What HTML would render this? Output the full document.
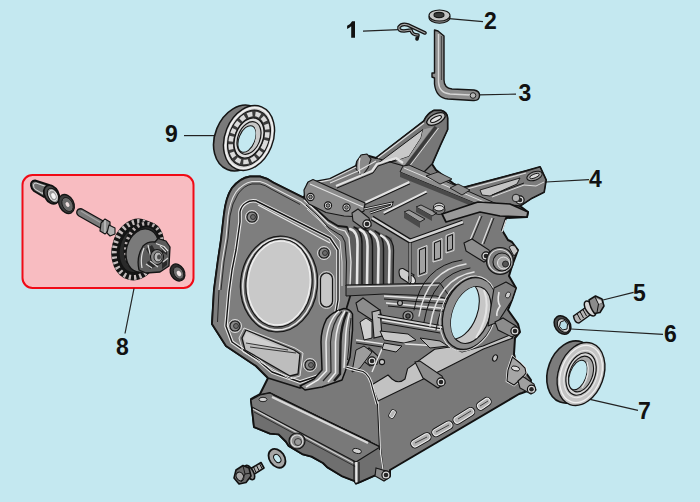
<!DOCTYPE html>
<html><head><meta charset="utf-8">
<style>
html,body{margin:0;padding:0;background:#c4e8f0;}
body{width:700px;height:502px;overflow:hidden;font-family:"Liberation Sans",sans-serif;}
svg{display:block;}
text{font-family:"Liberation Sans",sans-serif;font-weight:bold;font-size:23px;fill:#111;}
</style></head><body>
<svg width="700" height="502" viewBox="0 0 700 502">
<rect width="700" height="502" fill="#c4e8f0"/>
<!-- PINKBOX -->
<rect x="22.5" y="175" width="171" height="113" rx="10" ry="10" fill="#f8bcc1" stroke="#f00a16" stroke-width="2"/>
<!-- LEADERS -->
<g stroke="#222" stroke-width="1.2" fill="none">
<line x1="363" y1="31.1" x2="399" y2="29.6"/>
<line x1="449" y1="18.6" x2="483" y2="21.7"/>
<line x1="479" y1="94.9" x2="516" y2="94.1"/>
<line x1="546" y1="182" x2="589" y2="179.6"/>
<line x1="603" y1="300" x2="633.6" y2="292.4"/>
<line x1="571" y1="329" x2="663" y2="334.4"/>
<line x1="590" y1="399.4" x2="638" y2="410.4"/>
<line x1="134" y1="288.5" x2="125" y2="333.5"/>
<line x1="184" y1="135.6" x2="215" y2="135.6"/>
</g>
<!-- LABELS -->
<path d="M355,21.200 L355,37.700 L351.200,37.700 L351.200,26.200 Q349.500,27.900 347.100,28.900 L347.100,25.700 Q350.600,24.200 352.100,21.200 Z" fill="#111"/>
<text x="484" y="28.6">2</text>
<text x="518.5" y="101.4">3</text>
<text x="589" y="187">4</text>
<text x="633" y="300.6">5</text>
<text x="664" y="342">6</text>
<text x="638" y="418.7">7</text>
<text x="116" y="355">8</text>
<text x="165" y="141.6">9</text>
<!-- BODY -->
<g id="body">
<path id="sil" d="M250,176.500 L260,176.500 Q267,178 274,183 L304,198 L308,183 L330,179 L356,166 L357,162 L363,155 L369,156 L376,158 L424,121 Q427,114 434,110.500 L441,110.500 Q447,112 447.500,118 L447.500,129.400 L440.300,145 L432,164 L436,170 L454,184 L462,188 L526,171 L540,167 L546,180 L544,192 L532,198 L520,206 L528,212 L527,217 L506,218 L502,230 L508,240 L512,242 L518,250 L512,266 L509,276 L516,288 L512,300 L508,310 L518,324 L520,332 L515,338 L514,354 L516,362 L524,370 L531,380 L530,390 L522,393 L519,394 L390,470 L390,476 L384,480 L378,474 L360,482 L356,483.5 L354.6,481 L341.7,476 L327.4,467.3 L323,463 L311.6,456.6 L303,454.4 L288.6,445.8 L285.8,441.5 L278.6,434.3 L270,433.6 L254,427 L251,399 L260,394 L268,378 L256,366 L226,346 L212,324 L214,290 L218,260 L221,240 L224,214 Q226,197 232,188 Q240,178 250,176.500 Z" fill="#797979" stroke="#111" stroke-width="2" stroke-linejoin="round"/>

<!-- flange face (slightly lighter rim) -->
<path d="M250,176.500 L260,176.500 Q267,178 274,183 L304,198 L316,209 L328,220 L338,226 L347,227 L351,236 L354,262 L352,290 L346,310 L338,330 L336,372 L322,381 L300,388 L268,378 L256,366 L226,346 L212,324 L214,290 L218,260 L221,240 L224,214 Q226,197 232,188 Q240,178 250,176.500 Z" fill="#7e7e7e" stroke="#151515" stroke-width="1.8" stroke-linejoin="round"/>
<path d="M219,290 L222,262 L226,238 L228,216 Q230,201 236,192 Q243,183 252,181.500 L260,181.500 Q266,183 272,187 L301,202 L314,213 L326,226" fill="none" stroke="#e2e2e2" stroke-width="1.100"/>
<path d="M217.500,322 L219,290 M221,290 L224,262 L228,238 L230,216 Q232,203 238,194 Q244,185.500 252,184 L260,184 Q265,185 271,189 L300,204.500" fill="none" stroke="#202020" stroke-width="0.900"/>
<!-- inner gasket face -->
<path d="M246,203 Q250,200 256,201 L330,238 L338,250 L338,300 L333,330 L330,368 L318,376 L300,382 L272,372 L258,360 L232,342 L226,326 L229,292 L232,270 L236,250 L240,222 L240,212 Q241,206 246,203 Z" fill="#7e7e7e" stroke="#e8e8e8" stroke-width="3.600" stroke-linejoin="round"/>
<path d="M246,203 Q250,200 256,201 L330,238 L338,250 L338,300 L333,330 L330,368 L318,376 L300,382 L272,372 L258,360 L232,342 L226,326 L229,292 L232,270 L236,250 L240,222 L240,212 Q241,206 246,203 Z" fill="none" stroke="#151515" stroke-width="1.400" stroke-linejoin="round"/>
<path d="M258,205 L330,243" fill="none" stroke="#e8e8e8" stroke-width="1.200"/>
<!-- bore -->
<ellipse cx="279" cy="284" rx="38.500" ry="48" fill="#6a6a6a" stroke="#151515" stroke-width="1.2" transform="rotate(6 279 284)"/>
<ellipse cx="279" cy="284" rx="36" ry="46" fill="none" stroke="#e6e6e6" stroke-width="1.6" transform="rotate(6 279 284)"/>
<ellipse cx="279" cy="283" rx="33" ry="44" fill="#cbcbcb" stroke="#151515" stroke-width="1.2" transform="rotate(6 279 283)"/>
<ellipse cx="279" cy="283" rx="31" ry="42" fill="#c9c9c9" stroke="#f2f2f2" stroke-width="1.2" transform="rotate(6 279 283)"/>
<!-- slot right of bore -->
<rect x="320.500" y="273" width="12" height="34" rx="6" fill="#c6c6c6" stroke="#151515" stroke-width="1.2"/>
<rect x="319" y="271.500" width="15" height="37" rx="7.500" fill="none" stroke="#e6e6e6" stroke-width="0.8"/>
<!-- window -->
<path d="M246,330 L242,338 L245,350 L290,376 L298,374 L300,354 L294,350 Z" fill="#bdbdbd" stroke="#151515" stroke-width="1.3" stroke-linejoin="round"/>
<path d="M246,332 L244,339 L246,343 L287,350 Z" fill="#cfcfcf"/>
<path d="M246,343 L288,350 M250,347 L296,353" stroke="#222" stroke-width="0.9" fill="none"/>
<path d="M244,328 L239,338 L243,352 L290,379 L300,376 L303,353 L295,348 Z" fill="none" stroke="#e6e6e6" stroke-width="0.9"/>
<!-- bolt holes -->
<g fill="#8a8a8a" stroke="#151515" stroke-width="1.1">
<circle cx="252" cy="217" r="5"/><circle cx="324" cy="253" r="5"/><circle cx="235" cy="326" r="5"/><circle cx="310" cy="365" r="5"/>
</g>
<g fill="none" stroke="#e6e6e6" stroke-width="0.9">
<circle cx="252" cy="217" r="6.500"/><circle cx="324" cy="253" r="6.500"/><circle cx="235" cy="326" r="6.500"/><circle cx="310" cy="365" r="6.500"/>
</g>
<g fill="#6a6a6a" stroke="#222" stroke-width="0.8">
<circle cx="253" cy="217" r="2.500"/><circle cx="325" cy="253" r="2.500"/><circle cx="236" cy="326" r="2.500"/><circle cx="311" cy="365" r="2.500"/>
</g>

<!-- BASE -->
<path d="M251,400 L260,395 L270,393 L380,447 L383,470 L378,474 L360,482 L356,483.5 L354.6,481 L341.7,476 L327.4,467.3 L323,463 L311.6,456.6 L303,454.4 L288.6,445.8 L285.8,441.5 L278.6,434.3 L270,433.6 L254,427 Z" fill="#6f6f6f" stroke="#111" stroke-width="1.8" stroke-linejoin="round"/>
<!-- base top rim -->
<path d="M251,400 L260,395 L270,393 L380,447 L356,462 L252,407 Z" fill="#797979" stroke="#151515" stroke-width="1.1" stroke-linejoin="round"/>
<path d="M272,397 L368,443" stroke="#d8d8d8" stroke-width="2.2" fill="none"/>
<path d="M273,395 L371,441.500" stroke="#151515" stroke-width="0.9" fill="none"/>
<path d="M253,409 L357,465" stroke="#d2d2d2" stroke-width="1.2" fill="none"/>
<path d="M254,412 L356,467" stroke="#222" stroke-width="0.8" fill="none"/>
<ellipse cx="263" cy="399.500" rx="4" ry="2.200" fill="#d0d0d0" stroke="#151515" stroke-width="0.9"/>
<ellipse cx="357" cy="451" rx="4.500" ry="2.400" fill="#d0d0d0" stroke="#151515" stroke-width="0.9" transform="rotate(10 357 451)"/>
<path d="M356.3,462 L356.3,482.5" stroke="#e6e6e6" stroke-width="2.2"/>
<path d="M354,461 L354,481 M359,462 L359,482" stroke="#151515" stroke-width="1.1"/>
<!-- drain plug -->
<circle cx="297" cy="441" r="8" fill="#6a6a6a" stroke="#151515" stroke-width="1.2"/>
<circle cx="297" cy="441" r="6" fill="#8e8e8e" stroke="#dcdcdc" stroke-width="1.2"/>
<circle cx="298" cy="442" r="3.500" fill="#9a9a9a" stroke="#222" stroke-width="0.8"/>
<!-- base right side face -->
<path d="M378,401 L380.500,453 L383,470" stroke="#dedede" stroke-width="1.3" fill="none"/>
<path d="M377,383 L377.500,405 L379.500,450" stroke="#151515" stroke-width="1" fill="none"/>
<!-- slots -->
<g fill="#b4b4b4" stroke="#151515" stroke-width="3">
<rect x="411" y="437" width="20" height="6.500" rx="3.200" transform="rotate(-30 421 440.500)"/>
<rect x="432" y="425.500" width="21" height="6.500" rx="3.200" transform="rotate(-30 442.500 429)"/>
<rect x="453" y="412.500" width="22" height="6.500" rx="3.200" transform="rotate(-32 464 416)"/>
<rect x="477" y="400.500" width="14" height="6.500" rx="3.200" transform="rotate(-35 484 404)"/>
<rect x="389" y="412" width="7" height="4" rx="1.500" transform="rotate(-60 392.500 414)" stroke-width="2.400"/>
</g>
<g fill="#b4b4b4" stroke="#ececec" stroke-width="1.100">
<rect x="411" y="437" width="20" height="6.500" rx="3.200" transform="rotate(-30 421 440.500)"/>
<rect x="432" y="425.500" width="21" height="6.500" rx="3.200" transform="rotate(-30 442.500 429)"/>
<rect x="453" y="412.500" width="22" height="6.500" rx="3.200" transform="rotate(-32 464 416)"/>
<rect x="477" y="400.500" width="14" height="6.500" rx="3.200" transform="rotate(-35 484 404)"/>
<rect x="389" y="412" width="7" height="4" rx="1.500" transform="rotate(-60 392.500 414)" stroke-width="0.900"/>
</g>
<g fill="none" stroke="#333" stroke-width="0.900">
<path d="M415,443 L427,437 M436,432 L449,425 M458,419 L471,411 M480,406 L488,401"/>
</g>
<!-- studs on base -->
<g stroke="#151515" stroke-width="1.1">
<path d="M376,468 L386,471 L390,477 L384,481 L375,476 Z" fill="#8a8a8a"/>
<circle cx="386" cy="475" r="4.1" fill="#dcdcdc" stroke="#111" stroke-width="1.2"/><circle cx="386" cy="475" r="2.3" fill="#262626" stroke="none"/>
<path d="M512.500,357 L520,363 L525,368 L526,373 L521,379 L514,385 L507,381 L508,370 Z" fill="#a6a6a6" stroke="#f0f0f0" stroke-width="2.600"/><path d="M512.500,357 L520,363 L525,368 L526,373 L521,379 L514,385 L507,381 L508,370 Z" fill="#a6a6a6" stroke="#111" stroke-width="1.100"/><ellipse cx="515.500" cy="368.500" rx="4.200" ry="2.300" transform="rotate(15 515.500 368.500)" fill="#dedede" stroke="#111" stroke-width="0.900"/>
<path d="M518,381 L523,376.500 L534,384 L536,390 L531,394 L520,388 Z" fill="#a0a0a0"/>
<circle cx="531.500" cy="389.300" r="4.100" fill="#dcdcdc" stroke="#111" stroke-width="1.200"/><circle cx="531.500" cy="389.300" r="2.300" fill="#262626" stroke="none"/>
<ellipse cx="495" cy="358" rx="2.200" ry="3.400" fill="#c4c4c4" transform="rotate(25 495 358)"/>
</g>
<!-- LIGHT BAND -->
<path d="M371.600,385 L388,375 L392,379 Q398.600,384.500 405,379 L407.600,368.600 L434.600,349.300 L450,347 L462,352 L483,346 L510,335 L513,338 L483.400,349 L442,370 L378,401 Z" fill="#c2c2c2" stroke="#151515" stroke-width="1.1" stroke-linejoin="round"/>
<!-- stud on band -->
<path d="M415,362 L420,361 L442,376 L445,383 L438,388 L423,378 Z" fill="#8c8c8c" stroke="#151515" stroke-width="1.1"/>
<circle cx="441" cy="382" r="4.1" fill="#dcdcdc" stroke="#111" stroke-width="1.2"/><circle cx="441" cy="382" r="2.3" fill="#262626" stroke="none"/>


<!-- UPPER FINS -->
<path d="M349,228 L366,226 L392,238 L394,284 L352,286 Z" fill="#5c5c5c"/>
<g fill="none" stroke-linecap="round">
<path d="M350,229 Q358,231 357.500,246 L357,284" stroke="#e6e6e6" stroke-width="2.600"/>
<path d="M354,227 Q362.500,230 362,246 L362,284" stroke="#151515" stroke-width="1.400"/>
<path d="M360,229.500 Q368,233 367.500,248 L367,284" stroke="#e6e6e6" stroke-width="2.600"/>
<path d="M364,229 Q373,232 372.500,248 L372.500,284" stroke="#151515" stroke-width="1.400"/>
<path d="M370,231.500 Q379,236 378.500,250 L378,284" stroke="#e6e6e6" stroke-width="2.600"/>
<path d="M375,231 Q384,235 383.500,250 L383.500,284" stroke="#151515" stroke-width="1.400"/>
<path d="M381,235.500 Q390,240 389.500,252 L389,283" stroke="#e6e6e6" stroke-width="2.400"/>
<path d="M386,236 Q394,240 393.500,252 L393,283" stroke="#151515" stroke-width="1.300"/>
</g>
<!-- flange right edge outline (double) -->
<path d="M304,200 L316,211 L328,223 L338,229 L345,231 L349,238 L351,262 L350,286" fill="none" stroke="#e4e4e4" stroke-width="1.300"/>
<path d="M306,205 L318,216 L329,228 L337,233 L342,236 L345,242 L346.500,262 L346,286" fill="none" stroke="#151515" stroke-width="1"/>
<path d="M307,209 L319,220 L330,232 L336,237 L340,241 L342,262 L342,286" fill="none" stroke="#dcdcdc" stroke-width="1"/>
<!-- mid horizontal ledge -->
<path d="M346,285 L440,283 L452,300 L436,296 L384,294 L346,296 Z" fill="#6c6c6c" stroke="#151515" stroke-width="1"/>
<path d="M347,287 L440,285" stroke="#e4e4e4" stroke-width="1.200" fill="none"/>
<path d="M384,296 L446,300 M386,303 L450,309" stroke="#e4e4e4" stroke-width="1.500" fill="none"/>
<path d="M384,299 L448,304 M388,306 L450,312" stroke="#151515" stroke-width="1" fill="none"/>
<!-- LOWER FINS block -->
<path d="M344,308.500 Q332,312 326.500,319 Q321,330 321,342 L322,370 L314,379 L300,386 L305,390 L322,387 L342,380 L345,372 L350,357 L352.500,330 L352.500,314 Q350,309 344,308.500 Z" fill="#8f8f8f" stroke="#111" stroke-width="1.500" stroke-linejoin="round"/>
<g fill="none">
<path d="M339,311 Q328,320 326,342 L326.500,371 L318,380 L306,387" stroke="#ededed" stroke-width="1.500"/>
<path d="M342,311.500 Q332,322 330.500,342 L331,372 L323,381" stroke="#262626" stroke-width="1.200"/>
<path d="M345,311 Q336.500,324 335.500,342 L335.500,373 L328,382" stroke="#ededed" stroke-width="1.500"/>
<path d="M347,312 Q341,326 340.500,342 L340,374 L334,381" stroke="#1c1c1c" stroke-width="2.400"/>
<path d="M349.500,313 Q345.500,328 345.500,342 L344,368" stroke="#ededed" stroke-width="1.400"/>
<path d="M351,318 Q349,330 349,345 L347.500,360" stroke="#262626" stroke-width="1"/>
</g>
<!-- mid studs -->
<g stroke="#151515" stroke-width="1.100">
<path d="M356,303 L363,298 L380,310 L382,318 L375,322 L358,311 Z" fill="#8c8c8c"/>
<circle cx="377" cy="316" r="4.1" fill="#dcdcdc" stroke="#111" stroke-width="1.2"/><circle cx="377" cy="316" r="2.3" fill="#262626" stroke="none"/>
<path d="M399,272 Q399,268 403,268.500 L414,275 L410,284 L401,278 Q399,276 399,272 Z" fill="#cdcdcd"/>
<ellipse cx="412" cy="279.500" rx="3" ry="4.600" transform="rotate(-28 412 279.500)" fill="#e4e4e4"/>
<circle cx="408" cy="316" r="5" fill="#9a9a9a"/><circle cx="408" cy="316" r="2.200" fill="#555"/>
<circle cx="400" cy="303" r="2.500" fill="#aaa"/>
<path d="M362,352 L369,348 L378,356 L377,364 L370,366 L362,360 Z" fill="#8c8c8c"/>
<circle cx="372" cy="361" r="4.1" fill="#dcdcdc" stroke="#111" stroke-width="1.2"/><circle cx="372" cy="361" r="2.3" fill="#262626" stroke="none"/>
<circle cx="382" cy="362" r="2.600" fill="#c8c8c8"/>
<path d="M372,312 L380,310 L382,336 L374,338 Z" fill="#b8b8b8"/>
</g>
<g fill="none" stroke="#e4e4e4" stroke-width="1.400">
<path d="M382,320 L440,330 M384,338 L396,338 L406,344 L440,346"/>
<path d="M356,340 L384,344 L372,372"/>
</g>
<g fill="none" stroke="#151515" stroke-width="1">
<path d="M382,323 L440,333 M356,343 L382,347"/>
</g>

<!-- TOP DECK -->
<!-- left ear arm -->
<path d="M376,158 L424,121 Q427,114 434,110.500 L441,110.500 Q447,112 447.500,118 L447.500,129.400 L440.300,145 L432,164 L424,172 L404,166 Z" fill="#777" stroke="#151515" stroke-width="1.300" stroke-linejoin="round"/>
<path d="M423,129.500 L379,162.500 L396,161 L409,156.500 L421,138 Z" fill="#c8c8c8" stroke="#151515" stroke-width="1"/>
<path d="M423,129.500 L433,127 L404,166 L396,161 L409,156.500 L421,138 Z" fill="#9c9c9c"/>
<path d="M436,127 L406.500,166" stroke="#3a3a3a" stroke-width="3.400" fill="none"/>
<path d="M438.500,128 L409,167" stroke="#dcdcdc" stroke-width="1" fill="none"/>
<path d="M378,158 L424,123" stroke="#dcdcdc" stroke-width="1.200" fill="none"/>
<ellipse cx="436" cy="119" rx="10" ry="5" transform="rotate(-27 436 119)" fill="#c2c2c2" stroke="#111" stroke-width="1.300"/>
<ellipse cx="436" cy="119" rx="6" ry="2.200" transform="rotate(-27 436 119)" fill="#e4e4e4" stroke="#111" stroke-width="1.100"/>
<!-- lug on top rail -->
<path d="M356,169 L357,161 L361,155 L367,154 L371,159 L368,168 L362,176 Z" fill="#8a8a8a" stroke="#151515" stroke-width="1.100" stroke-linejoin="round"/>
<path d="M360,158 Q358,166 360,174" stroke="#e6e6e6" stroke-width="1.200" fill="none"/>
<!-- right ear arm -->
<path d="M462,188 L526,171 L540,167 L546,180 L544,192 L532,198 L520,206 L510,205 L478,202 L464,196 Z" fill="#7b7b7b" stroke="#151515" stroke-width="1.300" stroke-linejoin="round"/>
<path d="M480,190 L520,178 L517,184 L490,196 L482,195 Z" fill="#c4c4c4" stroke="#151515" stroke-width="0.900"/>
<path d="M463,190 L526,173" stroke="#dcdcdc" stroke-width="1.200" fill="none"/>
<path d="M492,197 L524,185 L536,186 L544,182" stroke="#dcdcdc" stroke-width="1" fill="none"/>
<path d="M492,195 L524,183" stroke="#151515" stroke-width="1" fill="none"/>
<ellipse cx="534.500" cy="176" rx="8" ry="4.200" transform="rotate(-20 534.500 176)" fill="#9a9a9a" stroke="#151515" stroke-width="1"/>
<ellipse cx="534.500" cy="176" rx="5" ry="1.900" transform="rotate(-20 534.500 176)" fill="#d8d8d8" stroke="#151515" stroke-width="0.900"/>
<circle cx="520" cy="200" r="4.1" fill="#dcdcdc" stroke="#111" stroke-width="1.2"/><circle cx="520" cy="200" r="2.3" fill="#262626" stroke="none"/>
<circle cx="516" cy="198" r="3.800" fill="#b0b0b0" stroke="#151515" stroke-width="0.900"/>
<!-- top rail along left edge -->
<path d="M309,184 L330,180 L356,167" stroke="#dedede" stroke-width="1.300" fill="none"/>
<path d="M330,183 L358,171 L376,161" stroke="#dedede" stroke-width="1.100" fill="none"/>
<!-- deck surface -->
<path d="M365,203 L409.500,182.300" stroke="#e2e2e2" stroke-width="2.600" fill="none"/>
<path d="M365,204.500 L410,183.800" stroke="#151515" stroke-width="1.100" fill="none"/>
<path d="M383.700,213 L426.700,191.600" stroke="#e2e2e2" stroke-width="2.400" fill="none"/>
<path d="M384,214.500 L427,193" stroke="#151515" stroke-width="1.100" fill="none"/>
<path d="M336,186 L372,171 L377,164 L396,158 L403,163" stroke="#e2e2e2" stroke-width="2.200" fill="none" stroke-linejoin="round"/>
<path d="M337,188 L373,173 L378,166 L396,160" stroke="#151515" stroke-width="1" fill="none" stroke-linejoin="round"/>
<!-- cross rail -->
<path d="M400,172 L403,166 L409,165 L497,204 L494,211 Z" fill="#8e8e8e" stroke="#151515" stroke-width="1" stroke-linejoin="round"/>
<path d="M400,172 L494,211 L494,215 L400,177 Z" fill="#4a4a4a"/>
<path d="M404,168 L496,207" stroke="#e0e0e0" stroke-width="1" fill="none"/>
<!-- small pads on the cross rail -->
<path d="M426,176 L438,172 L452,179 L440,184 Z" fill="#8a8a8a" stroke="#151515" stroke-width="0.900"/>
<path d="M450,188 L458,184 L470,190 L462,195 Z" fill="#8a8a8a" stroke="#151515" stroke-width="0.900"/>
<!-- link plate -->
<path d="M308,182 L313,179.500 L365,203 L364,211 L353,216.500 L344,216 L326,212.500 L309,204 L304.500,198 L304,190 Z" fill="#8b8b8b" stroke="#151515" stroke-width="1.200" stroke-linejoin="round"/>
<path d="M310,184 L363,207" stroke="#e2e2e2" stroke-width="1.100" fill="none"/>
<g fill="#e0e0e0" stroke="#151515" stroke-width="1.100"><circle cx="310.500" cy="197" r="3.600"/><circle cx="328" cy="205.500" r="3.600"/><circle cx="346.500" cy="207.500" r="3.600"/></g><g fill="#8a8a8a" stroke="#151515" stroke-width="0.900"><circle cx="310.500" cy="197" r="1.800"/><circle cx="328" cy="205.500" r="1.800"/><circle cx="346.500" cy="207.500" r="1.800"/></g>
<!-- pin by link plate -->
<path d="M352,213 L358,209 L369,218 L371,226 L364,229 L353,221 Z" fill="#8c8c8c" stroke="#151515" stroke-width="1.100"/>
<circle cx="367" cy="224" r="4.1" fill="#dcdcdc" stroke="#111" stroke-width="1.2"/><circle cx="367" cy="224" r="2.3" fill="#262626" stroke="none"/>
<!-- spring wire -->
<path d="M364,209 L392,203 L391,206 L370,213" stroke="#151515" stroke-width="2.600" fill="none"/>
<path d="M364,209 L392,203 L391,206 L370,213" stroke="#d8d8d8" stroke-width="1" fill="none"/>
<!-- box rim -->
<path d="M372,218 L410,241 L463,222" stroke="#151515" stroke-width="5" fill="none" stroke-linejoin="round"/>
<path d="M372,218 L410,241 L463,222" stroke="#d4d4d4" stroke-width="2.4" fill="none" stroke-linejoin="round"/>
<path d="M410,243 L410,282" stroke="#151515" stroke-width="3" fill="none"/>
<path d="M410,243 L410,282" stroke="#cfcfcf" stroke-width="1.200" fill="none"/>
<!-- ribs in box -->
<path d="M404,212 L409,210 L425,219 L420,222 Z M416,207 L421,205 L437,213 L432,216 Z" fill="#9a9a9a" stroke="#151515" stroke-width="0.900"/>
<path d="M404,212 L420,222 L420,228 L404,218 Z M416,207 L432,216 L432,221 L416,212 Z" fill="#4a4a4a"/>
<!-- windows -->
<g fill="#a2a2a2" stroke="#151515" stroke-width="1">
<path d="M419.500,250 L425.500,247.500 L425.500,272 L419.500,274.500 Z"/><path d="M434.500,243 L440.500,240.500 L440.500,258 L434.500,260 Z"/><path d="M447.500,236.500 L452.500,234.500 L452.500,249 L447.500,251 Z"/>
</g>
<g fill="none" stroke="#e6e6e6" stroke-width="0.900">
<path d="M418,249 L427,245.500 L427,273.500 L418,276.500 Z"/><path d="M433,242 L442,238.500 L442,259.500 L433,262 Z"/><path d="M446,235.500 L454,232.500 L454,250.500 L446,253 Z"/>
</g>
<!-- boss on deck -->
<ellipse cx="439" cy="207" rx="5.500" ry="4" fill="#d6d6d6" stroke="#151515" stroke-width="1"/>
<ellipse cx="439" cy="210" rx="6" ry="4.500" fill="none" stroke="#151515" stroke-width="0.900"/>
<!-- baffle plate -->
<path d="M442,214 L478,202 L510,204 L528,212 L527,217 L500,216 L480,212 L446,222 Z" fill="#999" stroke="#111" stroke-width="1.7" stroke-linejoin="round"/>
<!-- ribs below plate on right -->
<path d="M480,216 L470,240 M492,218 L482,244 M506,220 L502,232" stroke="#e0e0e0" stroke-width="1.200" fill="none"/>
<path d="M482,216 L472,240 M494,218 L484,244" stroke="#151515" stroke-width="0.900" fill="none"/>
<!-- mid bright details -->
<g stroke="#151515" stroke-width="1">
<path d="M380,331 L408,334 L416,340 L404,343 L384,340 Z" fill="#c6c6c6"/>
<path d="M384,343 L402,346 L396,352 L382,349 Z" fill="#bdbdbd"/>
<path d="M360,322 L366,318 L372,322 L372,338 L364,340 Z" fill="#cfcfcf"/>
<path d="M356,350 L364,346 L372,352 L360,368 L352,372 Z" fill="#9c9c9c"/>
<path d="M420,338 L440,341 L448,346 L430,348 Z" fill="#b4b4b4"/>
</g>
<path d="M378,316 L446,328" stroke="#151515" stroke-width="4" fill="none"/>
<path d="M378,316 L446,328" stroke="#cfcfcf" stroke-width="2" fill="none"/>
<path d="M346,367 Q354,369.500 363,371.500 Q370,375 372.500,388 L377,404" fill="none" stroke="#e8e8e8" stroke-width="3"/>
<path d="M346,367 Q354,369.500 363,371.500 Q370,375 372.500,388 L377,404" fill="none" stroke="#151515" stroke-width="1.100"/>
<!-- BOSS (bearing seat) -->
<defs>
<clipPath id="holeclip"><ellipse cx="471" cy="315" rx="18.500" ry="29.500" transform="rotate(20 471 315)"/></clipPath>
</defs>
<!-- boss cylinder rings to the left -->
<g fill="none" stroke-linecap="round">
<path d="M478,276 Q444,282 436,330" stroke="#151515" stroke-width="1"/>
<path d="M474,272 Q438,278 430,326" stroke="#e2e2e2" stroke-width="1.6"/>
<path d="M470,268 Q432,274 424,322" stroke="#151515" stroke-width="1"/>
<path d="M466,264 Q427,270 419,316" stroke="#e2e2e2" stroke-width="1.4"/>
<path d="M462,260 Q422,266 414,310" stroke="#151515" stroke-width="1"/>
</g>
<ellipse cx="469.500" cy="313.500" rx="25.500" ry="37" transform="rotate(20 469.500 313.500)" fill="#8d8d8d" stroke="#151515" stroke-width="1.3"/>
<ellipse cx="468.500" cy="313.500" rx="27" ry="38.500" transform="rotate(20 468.500 313.500)" fill="none" stroke="#e0e0e0" stroke-width="1"/>
<ellipse cx="471" cy="315" rx="18.500" ry="29.500" transform="rotate(20 471 315)" fill="#c6c6c6" stroke="#151515" stroke-width="1.2"/>
<g clip-path="url(#holeclip)">
<ellipse cx="460" cy="310.500" rx="17.500" ry="29.500" transform="rotate(20 460 310.500)" fill="#c4e8f0" stroke="#151515" stroke-width="1.1"/>
<path d="M484,290 Q492,312 476,338" stroke="#e4e4e4" stroke-width="2" fill="none"/>
</g>
<!-- triangular bracket right of boss -->
<path d="M494,288 L506,282 L516,288 L512,300 L498,322 L488,326 Z" fill="#808080" stroke="#151515" stroke-width="1.1" stroke-linejoin="round"/>
<path d="M499,292 Q497,302 500,306 Q496,312 497,316" stroke="#e8e8e8" stroke-width="1.600" fill="none"/>
<ellipse cx="508" cy="295" rx="2.300" ry="3.200" fill="#d0d0d0" stroke="#151515" stroke-width="0.8" transform="rotate(25 508 295)"/>
<!-- stud below bracket -->
<path d="M495,322 L503,318 L516,326 L519,333 L512,337 L498,330 Z" fill="#8c8c8c" stroke="#151515" stroke-width="1.1"/>
<circle cx="515" cy="331" r="4.1" fill="#dcdcdc" stroke="#111" stroke-width="1.2"/><circle cx="515" cy="331" r="2.3" fill="#262626" stroke="none"/>
<!-- upper right studs/bosses -->
<path d="M464,243 L472,239 L489,250 L491,258 L484,262 L466,251 Z" fill="#8c8c8c" stroke="#151515" stroke-width="1.1"/>
<circle cx="486" cy="256" r="4.1" fill="#dcdcdc" stroke="#111" stroke-width="1.2"/><circle cx="486" cy="256" r="2.3" fill="#262626" stroke="none"/>
<circle cx="500" cy="261" r="13.5" fill="#7c7c7c" stroke="#151515" stroke-width="1.2"/>
<circle cx="500" cy="261" r="11.5" fill="none" stroke="#dedede" stroke-width="1.1"/>
<circle cx="502" cy="262" r="9" fill="#8a8a8a" stroke="#151515" stroke-width="1.1"/>
<circle cx="503.5" cy="263" r="6" fill="#a0a0a0" stroke="#e6e6e6" stroke-width="1"/>
<circle cx="505.5" cy="264" r="3" fill="#555" stroke="#151515" stroke-width="0.8"/>
<path d="M509,247 Q512,244 515,246 L518,251 L514,256 Z" fill="#c6c6c6" stroke="#151515" stroke-width="0.9"/>
</g>
<!-- PARTS -->
<!-- GEAR ASSEMBLY (8) -->
<g stroke-linejoin="round">
<!-- cap bolt -->
<path d="M31,185.500 Q30.500,181 35,180.500 L49,185 L44,197 L34,191 Q31.500,189 31,185.500 Z" fill="#6e6e6e" stroke="#111" stroke-width="1.900"/>
<path d="M33.500,185 Q33.500,183 36,183 L46,186.500 L42.500,193.500 L35.500,189.500 Q33.500,188 33.500,185 Z" fill="none" stroke="#e6e6e6" stroke-width="0.900"/>
<ellipse cx="51.500" cy="194.500" rx="7" ry="10" transform="rotate(-28 51.500 194.500)" fill="#4a4a4a" stroke="#111" stroke-width="1.800"/>
<ellipse cx="53" cy="195.500" rx="5" ry="7.800" transform="rotate(-28 53 195.500)" fill="#9a9a9a" stroke="#111" stroke-width="1"/>
<ellipse cx="53" cy="195.500" rx="3.600" ry="5.600" transform="rotate(-28 53 195.500)" fill="none" stroke="#e8e8e8" stroke-width="0.900"/>
<ellipse cx="53.500" cy="196" rx="2" ry="3" transform="rotate(-28 53.500 196)" fill="#f4f4f4"/>
<!-- washer -->
<ellipse cx="66.500" cy="204" rx="7.200" ry="10" transform="rotate(-28 66.500 204)" fill="#3c3c3c" stroke="#151515" stroke-width="1.300"/>
<ellipse cx="67.500" cy="204.500" rx="5" ry="7.500" transform="rotate(-28 67.500 204.500)" fill="#6a6a6a" stroke="#151515" stroke-width="0.800"/>
<ellipse cx="67.500" cy="204.500" rx="1.800" ry="2.600" transform="rotate(-28 67.500 204.500)" fill="#f0e0e0"/>
<!-- pin -->
<path d="M77,211 Q78,208 82,209 L105,222 L102,229 L79,216 Q76,214 77,211 Z" fill="#7a7a7a" stroke="#151515" stroke-width="1.300"/>
<path d="M81,211 L103,224" stroke="#a4a4a4" stroke-width="1.200" fill="none"/>
<path d="M101,223 L105,219 L110,222 L110,229 L105,234 L100,231 Z" fill="#8a8a8a" stroke="#151515" stroke-width="1.200"/>
<path d="M105,220 L105,233" stroke="#e0e0e0" stroke-width="1" fill="none"/>
<path d="M109,225 L115,228 L115,234 L110,236 L107,233 Z" fill="#b0b0b0" stroke="#151515" stroke-width="1.100"/>
<!-- gear teeth -->
<ellipse cx="136" cy="249.500" rx="20" ry="27" transform="rotate(14 136 249.500)" fill="#2a2a2a" stroke="#141414" stroke-width="8.500"/>
<ellipse cx="136" cy="249.500" rx="21.300" ry="28.300" transform="rotate(14 136 249.500)" fill="none" stroke="#c4bcbc" stroke-width="5" stroke-dasharray="2.300 3"/>
<ellipse cx="136" cy="249.500" rx="17.500" ry="24.500" transform="rotate(14 136 249.500)" fill="none" stroke="#141414" stroke-width="1.600"/>
<ellipse cx="144" cy="247" rx="17" ry="23" transform="rotate(14 144 247)" fill="#2a2a2a" stroke="#141414" stroke-width="6"/>
<ellipse cx="144" cy="247" rx="17.800" ry="23.800" transform="rotate(14 144 247)" fill="none" stroke="#b8b0b0" stroke-width="3.600" stroke-dasharray="2.200 3.100"/>
<!-- gear face -->
<ellipse cx="142.500" cy="250.500" rx="16" ry="22" transform="rotate(16 142.500 250.500)" fill="#7a7a7a" stroke="#151515" stroke-width="1.300"/>
<!-- hub -->
<path d="M143,246 Q148,241 155,242 L158,238.500 L166,241 L170,247 L169,266 L160,272 L146,273 L139,270 Q136,257 143,246 Z" fill="#5c5c5c" stroke="#151515" stroke-width="1.300"/>
<path d="M146,249 L152,245 L156,252 L150,256 Z M161,246 L167,249 L167,255 L162,252 Z M147,262 L153,259 L156,266 L150,269 Z M162,263 L167,260 L167,265 L162,269 Z" fill="#2a2a2a"/>
<path d="M144,248 Q140,257 142,268 M148,245 L152,262 M156,243.500 L164,246.500 L168,251" fill="none" stroke="#dcdcdc" stroke-width="1.200"/>
<ellipse cx="157" cy="257" rx="6.500" ry="7.500" fill="#8a8a8a" stroke="#151515" stroke-width="1.100"/>
<ellipse cx="158" cy="257" rx="4" ry="5" fill="#b8b8b8" stroke="#151515" stroke-width="0.900"/>
<ellipse cx="159" cy="257" rx="2" ry="2.600" fill="#4a4a4a"/>
<path d="M146,264 L152,268 M150,261 L158,267 M163,262 L168,258 M160,246 L166,252" stroke="#d0d0d0" stroke-width="1.100" fill="none"/>
<!-- small washer -->
<ellipse cx="177.500" cy="272.500" rx="6.800" ry="9" transform="rotate(-30 177.500 272.500)" fill="#2e2e2e" stroke="#151515" stroke-width="1.300"/>
<ellipse cx="178.500" cy="273" rx="4.600" ry="6.600" transform="rotate(-30 178.500 273)" fill="#6c6c6c" stroke="#151515" stroke-width="0.800"/>
<ellipse cx="179" cy="273.500" rx="2" ry="2.800" transform="rotate(-30 179 273.500)" fill="#f0e6e6"/>
</g>

<!-- BEARING 9 -->
<g>
<ellipse cx="240" cy="138" rx="25" ry="34" transform="rotate(22 240 138)" fill="#7a7a7a" stroke="#151515" stroke-width="1.600"/>
<ellipse cx="249" cy="138" rx="24" ry="33.500" transform="rotate(22 249 138)" fill="#d4d4d4" stroke="#151515" stroke-width="1.400"/>
<ellipse cx="249" cy="138" rx="22" ry="31.500" transform="rotate(22 249 138)" fill="none" stroke="#f4f4f4" stroke-width="1.200"/>
<ellipse cx="249" cy="138" rx="20" ry="29" transform="rotate(22 249 138)" fill="#3c3c3c" stroke="#151515" stroke-width="1"/>
<ellipse cx="249" cy="138" rx="17" ry="25" transform="rotate(22 249 138)" fill="none" stroke="#dadada" stroke-width="4.600" stroke-dasharray="5.200 2.800"/>
<ellipse cx="249" cy="138" rx="13.800" ry="21" transform="rotate(22 249 138)" fill="#dcdcdc" stroke="#151515" stroke-width="1.300"/>
<ellipse cx="249" cy="138" rx="11" ry="17" transform="rotate(22 249 138)" fill="#c6c6c6" stroke="#151515" stroke-width="1.200"/>
<ellipse cx="247" cy="139" rx="8" ry="14" transform="rotate(22 247 139)" fill="#c4e8f0" stroke="#151515" stroke-width="1"/>
<path d="M254,125 Q260,138 249,153 Q258,148 259,137 Q259,130 254,125 Z" fill="#c9c9c9"/>
</g>
<!-- SEAL 7 -->
<g>
<ellipse cx="571" cy="372" rx="23" ry="32" transform="rotate(20 571 372)" fill="#7c7c7c" stroke="#151515" stroke-width="1.600"/>
<ellipse cx="581" cy="374" rx="22.500" ry="32.500" transform="rotate(20 581 374)" fill="#c4c4c4" stroke="#151515" stroke-width="1.400"/>
<ellipse cx="581" cy="374" rx="20" ry="29.500" transform="rotate(20 581 374)" fill="none" stroke="#f0f0f0" stroke-width="1.300"/>
<ellipse cx="581" cy="374" rx="16" ry="24.500" transform="rotate(20 581 374)" fill="none" stroke="#e8e8e8" stroke-width="1"/>
<ellipse cx="581" cy="374" rx="14" ry="22" transform="rotate(20 581 374)" fill="#d6d6d6" stroke="#151515" stroke-width="1.200"/>
<ellipse cx="581" cy="374" rx="11.500" ry="18.500" transform="rotate(20 581 374)" fill="#a9a9a9" stroke="#151515" stroke-width="1.100"/>
<ellipse cx="578" cy="375" rx="8.200" ry="15.500" transform="rotate(20 578 375)" fill="#c4e8f0" stroke="#151515" stroke-width="1"/>
<path d="M587,362 Q591,374 582,388" fill="none" stroke="#e2e2e2" stroke-width="1.300"/>
</g>
<!-- BOLT 5 -->
<g stroke="#111" stroke-width="1.500" stroke-linejoin="round">
<path d="M573.500,316 L587,306.500 L591.500,314 L579,323 Q574.500,323 573.500,316 Z" fill="#b4b4b4"/>
<path d="M577,313.500 L580.500,320 M580,311.500 L583.500,318 M583,309.500 L586.500,316" stroke-width="1"/>
<ellipse cx="590" cy="308.500" rx="4.200" ry="8.500" transform="rotate(-32 590 308.500)" fill="#d4d4d4"/>
<path d="M589,300 L595.500,296 L602,299 L604,306 L600,312.500 L594.500,313.500 Q590,308 589,300 Z" fill="#8c8c8c"/>
<path d="M595,297 L598.500,304 L597,312.500 M598.500,304 L603.500,302" fill="none" stroke-width="1"/>
<path d="M596.500,298.500 L601,300.500 L602,303 L599,304 Z" fill="#d8d8d8" stroke="none"/>
</g>
<!-- NUT 6 -->
<g stroke="#111" stroke-width="1.500">
<ellipse cx="562.500" cy="325" rx="7.600" ry="9.800" transform="rotate(-35 562.500 325)" fill="#4a4a4a"/>
<ellipse cx="563.500" cy="325.500" rx="5.400" ry="7.400" transform="rotate(-35 563.500 325.500)" fill="#d4d4d4" stroke-width="1"/>
<path d="M560.500,322 L564.500,320.500 L567.500,324 L567,329 L562.500,330 L559.500,326.500 Z" fill="#b9dde6" stroke-width="1"/>
</g>
<!-- BOTTOM BOLT + WASHER -->
<g stroke="#111" stroke-width="1.600" stroke-linejoin="round">
<path d="M250,469 L261,462.500 L264,468 L253,475 Z" fill="#b0b0b0"/>
<path d="M253.500,467 L256,472.500 M256.500,465.500 L259,470.500 M259.500,463.500 L262,468.500" stroke-width="1"/>
<ellipse cx="249.500" cy="472.500" rx="3.800" ry="8" transform="rotate(-30 249.500 472.500)" fill="#8a8a8a"/>
<path d="M236,470 L243,465.500 L249,468 L251,476 L246,482.500 L239,484 L234,478 Z" fill="#6a6a6a"/>
<ellipse cx="240" cy="476.500" rx="3.600" ry="4.600" transform="rotate(-30 240 476.500)" fill="#a8a8a8" stroke-width="1"/>
<path d="M243,466 L245,474 L241,482 M245,474 L251,473" fill="none" stroke-width="0.900"/>
<ellipse cx="277" cy="458.300" rx="7.500" ry="10.200" transform="rotate(-35 277 458.300)" fill="#a6a6a6" stroke-width="1.800"/>
<ellipse cx="277.300" cy="458.500" rx="3" ry="4.600" transform="rotate(-35 277.300 458.500)" fill="#c4e8f0" stroke-width="1"/>
</g>
<!-- CLIP 1 -->
<g fill="none" stroke-linecap="round" stroke-linejoin="round">
<path d="M425,33 L408,25 Q402,23 399,27 Q398,31 404,31 L411,30 Q412,35 418,35 L417,39" stroke="#151515" stroke-width="3.600"/>
<path d="M425,33 L408,25 Q402,23 399,27 Q398,31 404,31 L411,30 Q412,35 418,35" stroke="#a8a8a8" stroke-width="1.200"/>
</g>
<!-- WASHER 2 -->
<g stroke="#151515" stroke-width="1.100">
<ellipse cx="439.500" cy="17.500" rx="10.500" ry="5.800" fill="#8a8a8a"/>
<ellipse cx="439.500" cy="15.500" rx="10.500" ry="5.500" fill="#c4c4c4"/>
<ellipse cx="439" cy="15" rx="5" ry="2.600" fill="#3a3a3a"/>
</g>
<!-- ROD 3 -->
<g stroke-linejoin="round">
<path d="M434.500,30 L438,31 L444,36 L444,80 Q444,88 452,89 L474,90 Q480,91 479.500,96 Q479,101 473,100.500 L448,99 Q436,98 434.500,84 L434.500,78 L432,77 L432,73 L434.500,73 Z" fill="#8d8d8d" stroke="#151515" stroke-width="1.400"/>
<path d="M438.500,34 L438.500,82 Q439,93 450,94 L470,95" fill="none" stroke="#d6d6d6" stroke-width="1.400"/>
<path d="M441.500,36 L441.500,80" fill="none" stroke="#4a4a4a" stroke-width="1.200"/>
<circle cx="473" cy="95.500" r="2.800" fill="#b8b8b8" stroke="#151515" stroke-width="0.900"/>
</g>

</svg>
</body></html>
